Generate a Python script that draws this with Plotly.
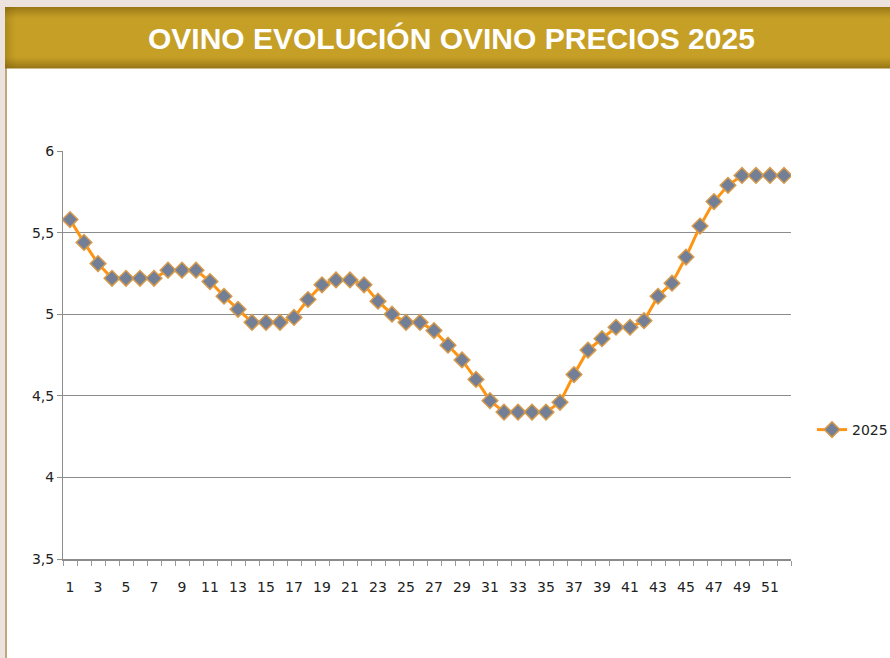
"""Evolución de precios del ovino 2025 (Plotly)."""

import plotly.graph_objects as go

# Datos
semanas = list(range(1, 53))
precios_2025 = [
    5.58, 5.44, 5.31, 5.22, 5.22, 5.22, 5.22, 5.27, 5.27, 5.27,
    5.20, 5.11, 5.03, 4.95, 4.95, 4.95, 4.98, 5.09, 5.18, 5.21,
    5.21, 5.18, 5.08, 5.00, 4.95, 4.95, 4.90, 4.81, 4.72, 4.60,
    4.47, 4.40, 4.40, 4.40, 4.40, 4.46, 4.63, 4.78, 4.85, 4.92,
    4.92, 4.96, 5.11, 5.19, 5.35, 5.54, 5.69, 5.79, 5.85, 5.85,
    5.85, 5.85,
]
etiquetas_x = list(range(1, 53, 2))
titulo = "OVINO EVOLUCIÓN OVINO PRECIOS 2025"
serie = "2025"

W, H = 890, 658
L, R, T, B = 63, 99, 151, 99
PW, PH = W - L - R, H - T - B


def px_x(x):
    return (x - L) / PW


def px_y(y):
    return (H - B - y) / PH


def mezcla(c1, c2, t):
    return "rgb({},{},{})".format(*[round(a + (b - a) * t) for a, b in zip(c1, c2)])


fig = go.Figure()

fig.add_trace(go.Scatter(
    x=semanas,
    y=precios_2025,
    mode="lines+markers",
    name=serie,
    line=dict(color="#ff9412", width=3),
    marker=dict(
        symbol="diamond",
        size=12,
        color="#737f96",
        line=dict(color="#d69a4a", width=1.5),
    ),
))

# Fondo de página y banda del título
shapes = [
    dict(type="rect", xref="paper", yref="paper",
         x0=px_x(0), x1=px_x(W), y0=px_y(7), y1=px_y(0),
         fillcolor="#ece3de", line_width=0, layer="below"),
    dict(type="rect", xref="paper", yref="paper",
         x0=px_x(0), x1=px_x(5), y0=px_y(H), y1=px_y(0),
         fillcolor="#ece3de", line_width=0, layer="below"),
    dict(type="rect", xref="paper", yref="paper",
         x0=px_x(5), x1=px_x(7), y0=px_y(H), y1=px_y(68),
         fillcolor="#c4a67c", line_width=0, layer="below"),
]

oscuro = (152, 118, 22)
claro = (198, 160, 38)
alto = 61
for i in range(alto):
    y0 = 7 + i
    d = abs((i + 0.5) / alto - 0.5) * 2
    t = max(0.0, (d - 0.6) / 0.4) ** 1.3
    shapes.append(dict(
        type="rect", xref="paper", yref="paper",
        x0=px_x(5), x1=px_x(W), y0=px_y(y0 + 1.4), y1=px_y(y0),
        fillcolor=mezcla(claro, oscuro, t), line_width=0, layer="below",
    ))
for i in range(12):
    shapes.append(dict(
        type="rect", xref="paper", yref="paper",
        x0=px_x(5 + i), x1=px_x(6 + i), y0=px_y(68), y1=px_y(7),
        fillcolor="rgba(110,80,5,{:.3f})".format(0.28 * (1 - i / 12) ** 1.5),
        line_width=0, layer="below",
    ))

fig.update_layout(
    width=W,
    height=H,
    margin=dict(l=L, r=R, t=T, b=B, autoexpand=False),
    paper_bgcolor="white",
    plot_bgcolor="white",
    separators=",.",
    font=dict(family="DejaVu Sans", size=14, color="#222222"),
    shapes=shapes,
    annotations=[dict(
        text="<b>" + titulo + "</b>",
        xref="paper", yref="paper",
        x=px_x(451), y=px_y(38),
        xanchor="center", yanchor="middle",
        showarrow=False,
        font=dict(family="Liberation Sans", size=30, color="white"),
    )],
    showlegend=True,
    legend=dict(
        x=px_x(812), y=px_y(430),
        xanchor="left", yanchor="middle",
        bgcolor="rgba(0,0,0,0)",
        font=dict(family="DejaVu Sans", size=14, color="#222222"),
        itemwidth=30,
    ),
    xaxis=dict(
        range=[0.5, 52.5],
        tickmode="array",
        tickvals=etiquetas_x,
        ticktext=[str(v) for v in etiquetas_x],
        ticks="",
        ticklabelstandoff=14,
        showgrid=False,
        zeroline=False,
        showline=True,
        linecolor="#8c8c8c",
        linewidth=2,
        minor=dict(
            tickvals=[v + 0.5 for v in range(0, 53)],
            ticks="outside",
            ticklen=5,
            tickcolor="#9a9a9a",
            showgrid=False,
        ),
    ),
    yaxis=dict(
        range=[3.5, 6],
        dtick=0.5,
        tick0=3.5,
        ticks="outside",
        ticklen=5,
        tickcolor="#8c8c8c",
        showgrid=True,
        gridcolor="#8c8c8c",
        gridwidth=1,
        zeroline=False,
        showline=True,
        linecolor="#8c8c8c",
        linewidth=1,
    ),
)

fig.write_html(
    "out.html",
    config={"displayModeBar": False},
    post_script="document.body.style.margin='0';document.body.style.overflow='hidden';",
)
